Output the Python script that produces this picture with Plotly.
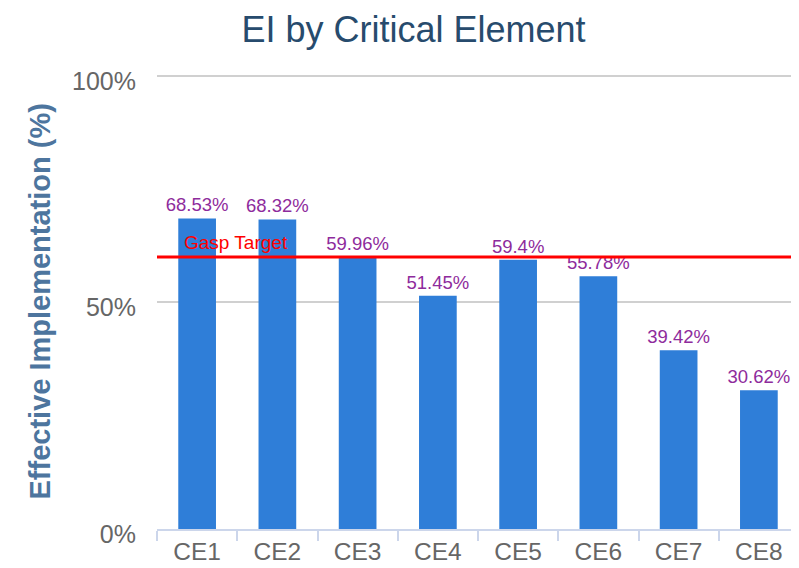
import plotly.graph_objects as go

categories = ["CE1", "CE2", "CE3", "CE4", "CE5", "CE6", "CE7", "CE8"]
values = [68.53, 68.32, 59.96, 51.45, 59.4, 55.78, 39.42, 30.62]
labels = ["68.53%", "68.32%", "59.96%", "51.45%", "59.4%", "55.78%", "39.42%", "30.62%"]
target_value = 60
target_label = "Gasp Target"
y_ticks = [0, 50, 100]
y_tick_labels = ["0%", "50%", "100%"]

font = "Liberation Sans, Arial, sans-serif"

# the page body has an 8px margin, so the figure is sized to fit the window
W, H = 791, 560
L, R, T, B = 149, 0, 66, 39
plot_w = W - L - R

fig = go.Figure()
fig.add_trace(go.Bar(
    x=categories, y=values, text=labels, textposition="outside",
    constraintext="none",
    textfont=dict(color="#8e2b9c", size=18.5, family=font),
    marker=dict(color="#2f7ed8", line=dict(width=0)),
    cliponaxis=False, width=0.47,
))

fig.add_shape(type="line", xref="paper", yref="y", x0=0, x1=1,
              y0=target_value, y1=target_value,
              line=dict(color="#ff0000", width=3), layer="above")
fig.add_annotation(xref="paper", yref="y", x=26 / plot_w, y=target_value,
                   text=target_label, showarrow=False, xanchor="left",
                   yanchor="bottom", yshift=3, borderpad=0,
                   font=dict(color="#ff0000", size=19, family=font))
fig.add_annotation(xref="paper", yref="paper", x=-(L - 31) / plot_w, y=0.5,
                   text="<b>Effective Implementation (%)</b>", showarrow=False,
                   textangle=-90, xanchor="center", yanchor="middle",
                   font=dict(size=29, color="#4d759e", family=font))

fig.update_layout(
    width=W, height=H,
    margin=dict(l=L, r=R, t=T, b=B),
    paper_bgcolor="white", plot_bgcolor="white",
    showlegend=False,
    title=dict(text="EI by Critical Element", x=405.5 / W, xanchor="center",
               y=1 - 21.5 / H, yanchor="middle",
               font=dict(size=36, color="#274b6d", family=font)),
    font=dict(family=font),
)
fig.update_xaxes(
    automargin=False,
    showline=True, linecolor="#ccd6eb", linewidth=2,
    ticks="outside", tickson="boundaries", tickcolor="#ccd6eb",
    ticklen=10, tickwidth=2,
    tickfont=dict(size=24.5, color="#666666", family=font),
    showgrid=False,
)
fig.update_yaxes(
    automargin=False,
    range=[0, 100.4], tickvals=y_ticks, ticktext=y_tick_labels,
    showgrid=True, gridcolor="#d0d0d0", gridwidth=2,
    zeroline=False, showline=False,
    ticks="", ticklen=0, ticklabelstandoff=20, ticklabelshift=5,
    tickfont=dict(size=25, color="#666666", family=font),
)

fig.write_html("out.html")
